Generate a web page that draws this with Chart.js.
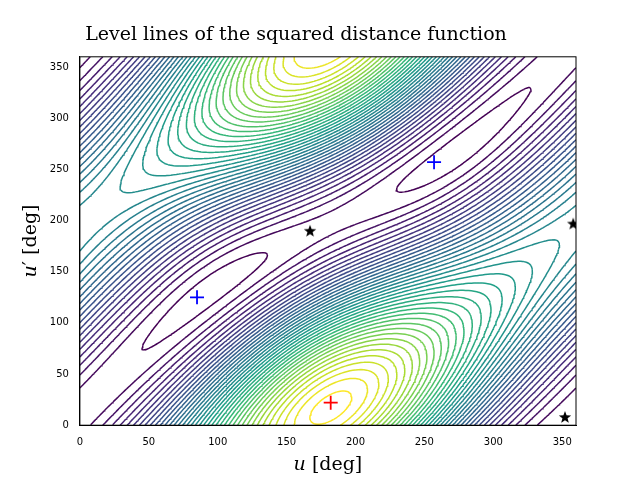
<!DOCTYPE html>
<html>
<head>
<meta charset="utf-8">
<script src="https://cdn.jsdelivr.net/npm/chart.js@4"></script>
<style>
  html, body { margin: 0; padding: 0; background: #fff; }
  #wrap { width: 640px; height: 480px; }
</style>
</head>
<body>
<div id="wrap"><canvas id="c" width="640" height="480"></canvas></div>
<script>
// Orbit elements of the two curves (distance field is built from them)
const orbit1 = { a: 1.5, e: 0.45, node: 0, omega: 0, incl: 0 };
const orbit2 = { a: 1.45, e: 0.1, node: 0, omega: -15, incl: 4 };

// Marked points [u, u']
const globalMin = [[182, 22]];
const localMins = [[85, 125], [257, 257]];
const saddles = [[167, 190], [358, 197], [352, 8]];

const xTicks = [0, 50, 100, 150, 200, 250, 300, 350];
const yTicks = [0, 50, 100, 150, 200, 250, 300, 350];
const nLevels = 40;

const rad = Math.PI / 180;

function position(o, u) {
  const W = o.node * rad, w = o.omega * rad, i = o.incl * rad;
  const cW = Math.cos(W), sW = Math.sin(W), cw = Math.cos(w), sw = Math.sin(w), ci = Math.cos(i), si = Math.sin(i);
  const P = [cW * cw - sW * sw * ci, sW * cw + cW * sw * ci, sw * si];
  const Q = [-cW * sw - sW * cw * ci, -sW * sw + cW * cw * ci, cw * si];
  const x = o.a * (Math.cos(u * rad) - o.e);
  const y = o.a * Math.sqrt(1 - o.e * o.e) * Math.sin(u * rad);
  return [P[0] * x + Q[0] * y, P[1] * x + Q[1] * y, P[2] * x + Q[2] * y];
}

function dist2(u, v) {
  const p = position(orbit1, u), q = position(orbit2, v);
  return (p[0] - q[0]) ** 2 + (p[1] - q[1]) ** 2 + (p[2] - q[2]) ** 2;
}

// Grid
const step = 2;
const N = 360 / step + 1;
const grid = [];
let fmin = Infinity, fmax = -Infinity;
for (let j = 0; j < N; j++) {
  const row = [];
  for (let i = 0; i < N; i++) {
    const f = dist2(i * step, j * step);
    row.push(f);
    if (f < fmin) fmin = f;
    if (f > fmax) fmax = f;
  }
  grid.push(row);
}

// viridis
const viridis = [[68,1,84],[72,40,120],[62,74,137],[49,104,142],[38,130,142],[31,158,137],[53,183,121],[109,205,89],[180,222,44],[253,231,37]];
function viridisColor(t) {
  const s = t * (viridis.length - 1);
  const k = Math.min(Math.floor(s), viridis.length - 2);
  const f = s - k;
  const c = viridis[k].map((v, n) => Math.round(v + (viridis[k + 1][n] - v) * f));
  return `rgb(${c[0]},${c[1]},${c[2]})`;
}

// Marching squares -> segments separated by gaps
function contour(level) {
  const pts = [];
  const interp = (x1, y1, v1, x2, y2, v2) => {
    const t = (level - v1) / (v2 - v1);
    return { x: x1 + (x2 - x1) * t, y: y1 + (y2 - y1) * t };
  };
  for (let j = 0; j < N - 1; j++) {
    for (let i = 0; i < N - 1; i++) {
      const x0 = i * step, y0 = j * step, x1 = x0 + step, y1 = y0 + step;
      const a = grid[j][i], b = grid[j][i + 1], c = grid[j + 1][i + 1], d = grid[j + 1][i];
      const e = [];
      if ((a < level) !== (b < level)) e.push(interp(x0, y0, a, x1, y0, b));
      if ((b < level) !== (c < level)) e.push(interp(x1, y0, b, x1, y1, c));
      if ((c < level) !== (d < level)) e.push(interp(x1, y1, c, x0, y1, d));
      if ((d < level) !== (a < level)) e.push(interp(x0, y1, d, x0, y0, a));
      if (e.length === 2) {
        pts.push(e[0], e[1], { x: e[1].x, y: null });
      } else if (e.length === 4) {
        pts.push(e[0], e[1], { x: e[1].x, y: null }, e[2], e[3], { x: e[3].x, y: null });
      }
    }
  }
  return pts;
}

const datasets = [];
for (let k = 0; k < nLevels; k++) {
  const level = fmin + (fmax - fmin) * (k + 0.5) / nLevels;
  const t = k / (nLevels - 1);
  datasets.push({
    type: 'line',
    data: contour(level),
    borderColor: viridisColor(t),
    borderWidth: 1.5,
    pointRadius: 0,
    spanGaps: false,
    tension: 0,
    order: 2
  });
}

// star marker
const star = document.createElement('canvas');
star.width = 14; star.height = 14;
(function () {
  const g = star.getContext('2d');
  g.beginPath();
  for (let k = 0; k < 10; k++) {
    const r = k % 2 === 0 ? 6.5 : 2.7;
    const ang = -Math.PI / 2 + k * Math.PI / 5;
    const px = 7 + r * Math.cos(ang), py = 7.5 + r * Math.sin(ang);
    if (k === 0) g.moveTo(px, py); else g.lineTo(px, py);
  }
  g.closePath();
  g.fillStyle = '#000';
  g.fill();
})();

const toPts = arr => arr.map(p => ({ x: p[0], y: p[1] }));
datasets.push({ type: 'scatter', data: toPts(globalMin), pointStyle: 'cross', radius: 7, borderColor: 'red', borderWidth: 1.8, order: 0 });
datasets.push({ type: 'scatter', data: toPts(localMins), pointStyle: 'cross', radius: 7, borderColor: 'blue', borderWidth: 1.8, order: 0 });
datasets.push({ type: 'scatter', data: toPts(saddles), pointStyle: star, order: 0 });

new Chart(document.getElementById('c'), {
  data: { datasets },
  options: {
    responsive: false,
    animation: false,
    parsing: false,
    normalized: true,
    layout: { padding: { left: 16, right: 64, top: 6, bottom: 0 } },
    plugins: {
      legend: { display: false },
      tooltip: { enabled: false },
      title: {
        display: true,
        text: 'Level lines of the squared distance function',
        font: { family: 'DejaVu Serif', size: 19, weight: 'normal' },
        color: '#000',
        padding: { top: 18, bottom: 10 }
      }
    },
    scales: {
      x: {
        type: 'linear', min: 0, max: 360,
        grid: { display: false, drawTicks: true },
        border: { color: '#000' },
        afterBuildTicks: s => { s.ticks = xTicks.map(v => ({ value: v })); },
        ticks: { color: '#000', font: { family: 'DejaVu Sans', size: 10 }, maxRotation: 0 },
        title: { display: true, text: '𝑢 [deg]', color: '#000', font: { family: 'DejaVu Serif', size: 19 }, padding: { top: 2 } }
      },
      y: {
        type: 'linear', min: 0, max: 360,
        grid: { display: false },
        border: { color: '#000' },
        afterBuildTicks: s => { s.ticks = yTicks.map(v => ({ value: v })); },
        ticks: { color: '#000', font: { family: 'DejaVu Sans', size: 10 } },
        title: { display: true, text: '𝑢′ [deg]', color: '#000', font: { family: 'DejaVu Serif', size: 19 } }
      }
    }
  },
  plugins: [{
    id: 'frame',
    afterDraw(chart) {
      const { ctx, chartArea: a } = chart;
      ctx.save();
      ctx.strokeStyle = '#000';
      ctx.lineWidth = 1;
      ctx.strokeRect(a.left, a.top, a.right - a.left, a.bottom - a.top);
      ctx.restore();
    }
  }]
});
</script>
</body>
</html>
